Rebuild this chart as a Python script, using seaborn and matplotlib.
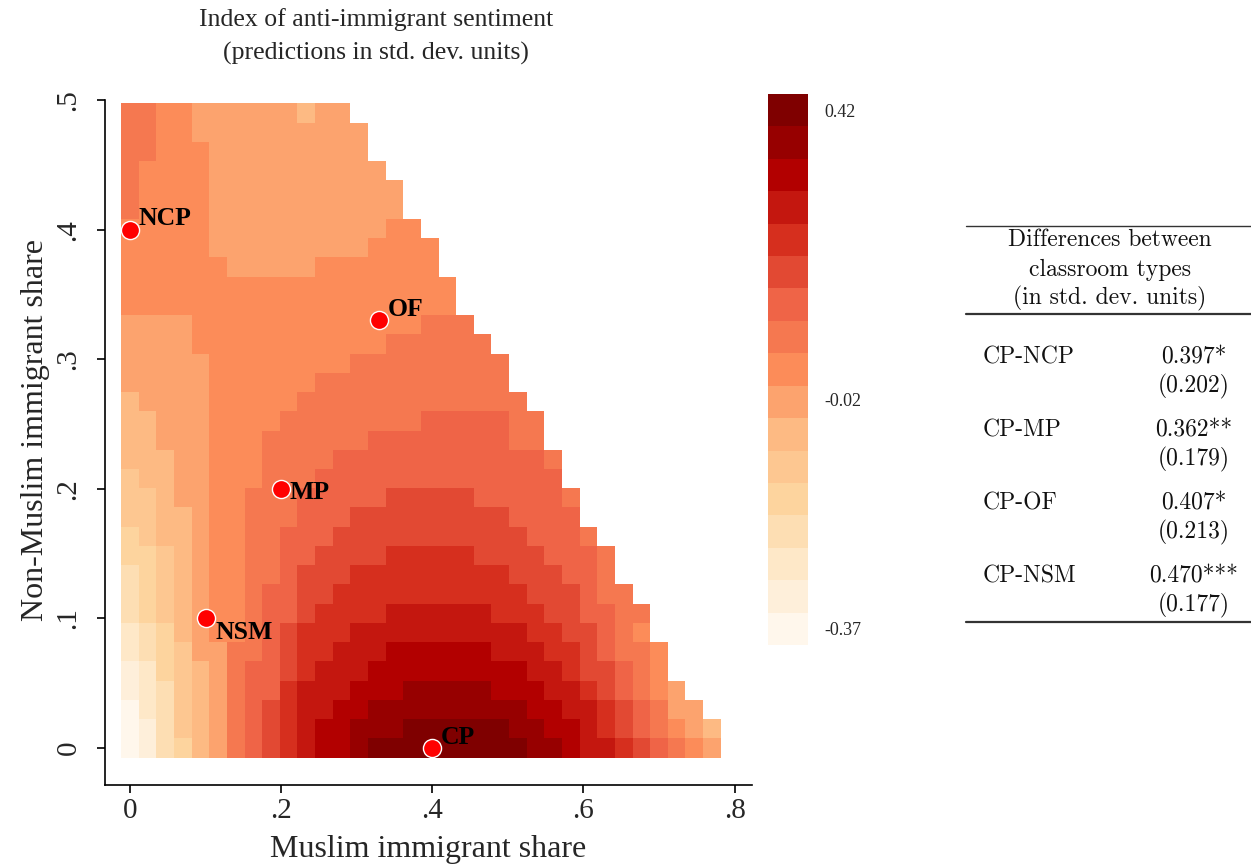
import numpy as np
import matplotlib
matplotlib.use("Agg")
import matplotlib.pyplot as plt
import seaborn as sns
import pandas as pd
from matplotlib.colors import ListedColormap, BoundaryNorm
from matplotlib.cm import ScalarMappable
from matplotlib.lines import Line2D

# ---------------- data ----------------
# grid of predictions: Muslim share 0..0.77 (34 columns), non-Muslim share 0..0.49 (34 rows)
X_MAX = 0.77
Y_MAX = 0.49
N_GRID = 34

# colour levels (0 = lightest ... g = darkest), rows listed from top (y = .49) to bottom (y = 0)
LEVEL_ROWS = [
    "9988777777677",
    "99887777777777",
    "99888777777777",
    "988887777777777",
    "9888877777777777",
    "9888877777777777",
    "88888777777777788",
    "888887777777778888",
    "888888777778888888",
    "8888888888888888888",
    "8888888888888888888",
    "77778888888888888999",
    "777788888888888999999",
    "7777788888888999999999",
    "7777788888899999999999",
    "67777888889999999999999",
    "66777888899999999aaaaa99",
    "6677788899" "9999" "aaa" "aaaaa" "99",
    "6667788899" "99" "aaaaa" "aaaaaaa" "9",
    "5667788899" "9" "aaaaaa" "aaaaaaaa",
    "5567788999" "aaaaa" "bb" "bbb" "aaaaa" "9",
    "5566788999" "aaa" "bbbb" "bbbbb" "aaaa",
    "456678899a" "aa" "bbbbb" "bbbbbb" "aaa" "9",
    "445678899a" "a" "bbbb" "cc" "ccc" "bbbb" "aaa" "9",
    "345678899a" "bbb" "cccc" "ccccc" "bbb" "aa" "9",
    "34567889aa" "bb" "ccccc" "cccccc" "bbb" "a" "99",
    "34567889aa" "b" "cccc" "dd" "dddd" "ccc" "bb" "aa" "99",
    "23467889ab" "ccc" "dddd" "dddddd" "cc" "bb" "a" "9" "8",
    "23457799ab" "cc" "ddd" "ee" "eeee" "ddd" "cc" "b" "a" "99" "8",
    "1245679aab" "c" "ddd" "eee" "eeeeee" "dd" "c" "bb" "a" "9" "8",
    "1235679aac" "ddd" "eee" "f" "ffff" "eee" "dd" "c" "b" "a" "9" "8" "7",
    "0235679abc" "dd" "ee" "fff" "ffffff" "ee" "dd" "c" "b" "a" "9" "77",
    "0135679abc" "d" "ee" "fff" "g" "ggggg" "ff" "ee" "d" "c" "b" "a" "9" "8" "7" "6",
    "0134679abc" "d" "ee" "f" "ggg" "gggggg" "ff" "e" "dd" "c" "b" "a" "9" "8" "7",
]

V_MIN = -0.37          # value of the lightest level
V_MAX = 0.42           # value of the darkest level
N_LEVELS = 17
CBAR_TICKS = [0.42, -0.02, -0.37]

point_labels = ["NCP", "OF", "MP", "NSM", "CP"]
point_x = [0.0, 0.33, 0.20, 0.10, 0.40]
point_y = [0.40, 0.33, 0.20, 0.10, 0.0]

diff_names = ["CP-NCP", "CP-MP", "CP-OF", "CP-NSM"]
diff_coefs = ["0.397*", "0.362**", "0.407*", "0.470***"]
diff_ses = ["(0.202)", "(0.179)", "(0.213)", "(0.177)"]

x_ticks = [0, 0.2, 0.4, 0.6, 0.8]
x_ticklabels = ["0", ".2", ".4", ".6", ".8"]
y_ticks = [0, 0.1, 0.2, 0.3, 0.4, 0.5]
y_ticklabels = ["0", ".1", ".2", ".3", ".4", ".5"]

# ---------------- build grid ----------------
xc = np.linspace(0, X_MAX, N_GRID)
yc = np.linspace(0, Y_MAX, N_GRID)
dx = xc[1] - xc[0]
dy = yc[1] - yc[0]
xe = np.append(xc - dx / 2, xc[-1] + dx / 2)
ye = np.append(yc - dy / 2, yc[-1] + dy / 2)

step_v = (V_MAX - V_MIN) / (N_LEVELS - 1)
Z = np.full((N_GRID, N_GRID), np.nan)
for t, row in enumerate(LEVEL_ROWS):
    j = N_GRID - 1 - t
    for i, ch in enumerate(row):
        Z[j, i] = V_MIN + int(ch, 36) * step_v

base_cmap = sns.color_palette("OrRd", as_cmap=True)
cmap = ListedColormap(base_cmap(np.linspace(0, 1, N_LEVELS)))
bounds = V_MIN + (np.arange(N_LEVELS + 1) - 0.5) * step_v
norm = BoundaryNorm(bounds, N_LEVELS)

# ---------------- figure ----------------
sns.set_style("ticks")
plt.rcParams["font.family"] = ["Liberation Serif", "DejaVu Serif"]

W, H = 1251, 865
fig = plt.figure(figsize=(W / 100, H / 100), dpi=100)
ax = fig.add_axes([105 / W, 1 - 785 / H, (752 - 105) / W, (785 - 100) / H])

ax.pcolormesh(xe, ye, np.ma.masked_invalid(Z), cmap=cmap, norm=norm,
              shading="flat", linewidth=0, antialiased=False)

pts = pd.DataFrame({"x": point_x, "y": point_y, "label": point_labels})
sns.scatterplot(data=pts, x="x", y="y", ax=ax, color="#ff0000", edgecolor="white",
                linewidth=1.0, s=170, zorder=5, legend=False, clip_on=False)

offsets = {"NCP": (6, 0, "left", "bottom"),
           "OF": (6, -0.5, "left", "bottom"),
           "MP": (6, -2.5, "left", "center"),
           "NSM": (7, -2, "left", "top"),
           "CP": (6, -1, "left", "bottom")}
for lab, px, py in zip(point_labels, point_x, point_y):
    ox, oy, ha, va = offsets[lab]
    ax.annotate(lab, (px, py), xytext=(ox, oy), textcoords="offset points",
                ha=ha, va=va, fontsize=18.5, fontweight="bold", color="black", zorder=6)

ax.set_xlim(-0.033, 0.823)
ax.set_ylim(-0.0285, 0.5)
ax.set_xticks(x_ticks)
ax.set_xticklabels(x_ticklabels, fontsize=21)
ax.set_yticks(y_ticks)
ax.set_yticklabels(y_ticklabels, fontsize=21, rotation=90, va="center")
ax.tick_params(axis="both", direction="out", length=6, width=1.2, color="black")
ax.tick_params(axis="x", pad=3)
ax.tick_params(axis="y", pad=11)
for s in ["top", "right"]:
    ax.spines[s].set_visible(False)
for s in ["left", "bottom"]:
    ax.spines[s].set_linewidth(1.2)
    ax.spines[s].set_color("black")
ax.set_xlabel("Muslim immigrant share", fontsize=23, labelpad=8.5)
ax.set_ylabel("Non-Muslim immigrant share", fontsize=23, labelpad=4)
ax.yaxis.label.set_y(0.518)

fig.text(376 / W, 1 - 20 / H, "Index of anti-immigrant sentiment", ha="center", va="center", fontsize=18.5)
fig.text(376 / W, 1 - 53 / H, "(predictions in std. dev. units)", ha="center", va="center", fontsize=18.5)

# ---------------- colour bar ----------------
cax = fig.add_axes([768 / W, 1 - 645 / H, 40 / W, 551 / H])
sm = ScalarMappable(norm=norm, cmap=cmap)
cb = fig.colorbar(sm, cax=cax, ticks=CBAR_TICKS)
cb.outline.set_visible(False)
cb.minorticks_off()
cb.ax.set_yticklabels([f"{v:.2f}" for v in CBAR_TICKS], fontsize=13)
cb.ax.tick_params(which="both", length=0, pad=12)

# ---------------- table ----------------
tfont = dict(family=["cmr10", "DejaVu Serif"], fontsize=17, color="#111111")
for yy, lw in [(226, 1.0), (314, 1.6), (622, 1.6)]:
    fig.add_artist(Line2D([966 / W, 1.0], [1 - yy / H, 1 - yy / H], transform=fig.transFigure,
                          color="#333333", linewidth=lw))
for txt, yy in [("Differences between", 240), ("classroom types", 270), ("(in std. dev. units)", 298)]:
    fig.text(1110 / W, 1 - yy / H, txt, ha="center", va="center", **tfont)
row_y = [357, 430, 503, 576]
for name, coef, se, yy in zip(diff_names, diff_coefs, diff_ses, row_y):
    fig.text(983 / W, 1 - yy / H, name, ha="left", va="center", **tfont)
    fig.text(1194 / W, 1 - yy / H, coef, ha="center", va="center", **tfont)
    fig.text(1194 / W, 1 - (yy + 29) / H, se, ha="center", va="center", **tfont)

fig.savefig("out.png", dpi=100)
